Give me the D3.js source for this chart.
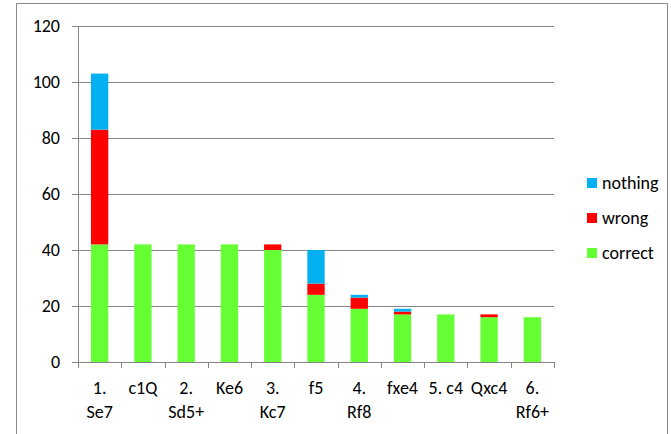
<!DOCTYPE html>
<html>
<head>
<meta charset="utf-8">
<script src="https://cdn.jsdelivr.net/npm/d3@7"></script>
<style>
  body { margin: 0; background: #fff; overflow: hidden; }
  svg { display: block; font-family: Carlito, Lato, "Open Sans", sans-serif; }
</style>
</head>
<body>
<div id="chart"></div>
<script>
const moves = ["1.\nSe7", "c1Q", "2.\nSd5+", "Ke6", "3.\nKc7", "f5", "4.\nRf8", "fxe4", "5. c4", "Qxc4", "6.\nRf6+"];
const correct = [42, 42, 42, 42, 40, 24, 19, 17, 17, 16, 16];
const wrong   = [41, 0, 0, 0, 2, 4, 4, 1, 0, 1, 0];
const nothing = [20, 0, 0, 0, 0, 12, 1, 1, 0, 0, 0];
const seriesKeys = ["correct", "wrong", "nothing"];
const yTicks = [0, 20, 40, 60, 80, 100, 120];

const width = 671, height = 434;
const margin = {top: 26, right: 117, bottom: 72, left: 78};
const innerWidth = width - margin.left - margin.right;
const innerHeight = height - margin.top - margin.bottom;
const fontFamily = "Carlito, Lato, 'Open Sans', sans-serif";
const fontSize = "18px";

const data = moves.map((m, i) => ({move: m, correct: correct[i], wrong: wrong[i], nothing: nothing[i]}));

const color = d3.scaleOrdinal()
    .domain(seriesKeys)
    .range(["#66ff33", "#ff0000", "#00b0f0"]);

const svg = d3.select("#chart")
    .append("svg")
    .attr("width", width)
    .attr("height", height);

// outer chart border
svg.append("path")
    .attr("d", `M16.5,${height} V3.5 H667.5 V${height}`)
    .attr("fill", "none")
    .attr("stroke", "#888");

const g = svg.append("g")
    .attr("transform", `translate(${margin.left},${margin.top})`);

const x = d3.scaleBand()
    .domain(moves)
    .range([0, innerWidth])
    .paddingInner(0.6)
    .paddingOuter(0.3);

const xOuter = d3.scaleBand()
    .domain(moves)
    .range([0, innerWidth]);

const y = d3.scaleLinear()
    .domain([0, 120])
    .range([innerHeight, 0]);

// gridlines
g.append("g")
    .selectAll("line")
    .data(yTicks.filter(d => d > 0))
    .enter()
    .append("line")
    .attr("x1", 0)
    .attr("x2", innerWidth)
    .attr("y1", d => Math.round(y(d)) + 0.5)
    .attr("y2", d => Math.round(y(d)) + 0.5)
    .attr("stroke", "#868686")
    .attr("stroke-width", 1);

const stacked = d3.stack().keys(seriesKeys)(data);

g.selectAll(".layer")
    .data(stacked)
    .enter()
    .append("g")
    .attr("class", "layer")
    .attr("fill", d => color(d.key))
    .selectAll("rect")
    .data(d => d)
    .enter()
    .append("rect")
    .attr("x", d => x(d.data.move))
    .attr("y", d => y(d[1]))
    .attr("width", x.bandwidth())
    .attr("height", d => y(d[0]) - y(d[1]));

// y axis
const yAxis = g.append("g")
    .call(d3.axisLeft(y).tickValues(yTicks).tickSize(6).tickSizeOuter(0))
    .attr("font-family", fontFamily);
yAxis.select(".domain").attr("stroke", "#868686");
yAxis.selectAll(".tick line").attr("stroke", "#868686");
yAxis.selectAll(".tick text")
    .attr("x", -18)
    .attr("fill", "#000")
    .style("font-size", fontSize);

// x axis
const xAxis = g.append("g")
    .attr("transform", `translate(0,${innerHeight})`);
xAxis.append("line")
    .attr("x1", 0).attr("x2", innerWidth)
    .attr("y1", 0.5).attr("y2", 0.5)
    .attr("stroke", "#868686");
xAxis.selectAll(".xtick")
    .data(moves.concat(["end"]))
    .enter()
    .append("line")
    .attr("x1", (d, i) => Math.round(i * xOuter.step()) + 0.5)
    .attr("x2", (d, i) => Math.round(i * xOuter.step()) + 0.5)
    .attr("y1", 0)
    .attr("y2", 6)
    .attr("stroke", "#868686");

const labels = xAxis.selectAll(".xlabel")
    .data(moves)
    .enter()
    .append("text")
    .attr("text-anchor", "middle")
    .attr("fill", "#000")
    .style("font-size", fontSize)
    .attr("transform", d => `translate(${xOuter(d) + xOuter.bandwidth() / 2},32)`);
labels.selectAll("tspan")
    .data(d => d.split("\n"))
    .enter()
    .append("tspan")
    .attr("x", 0)
    .attr("dy", (d, i) => i === 0 ? 0 : 24)
    .text(d => d);

// legend
const legendItems = [
    {key: "nothing", y: 183},
    {key: "wrong", y: 218},
    {key: "correct", y: 253}
];
const legend = svg.append("g")
    .selectAll("g")
    .data(legendItems)
    .enter()
    .append("g")
    .attr("transform", d => `translate(587,${d.y})`);
legend.append("rect")
    .attr("x", 0)
    .attr("y", -5)
    .attr("width", 10)
    .attr("height", 10)
    .attr("fill", d => color(d.key));
legend.append("text")
    .attr("x", 15)
    .attr("y", 0)
    .attr("dy", "0.35em")
    .attr("fill", "#000")
    .style("font-size", fontSize)
    .text(d => d.key);
</script>
</body>
</html>
